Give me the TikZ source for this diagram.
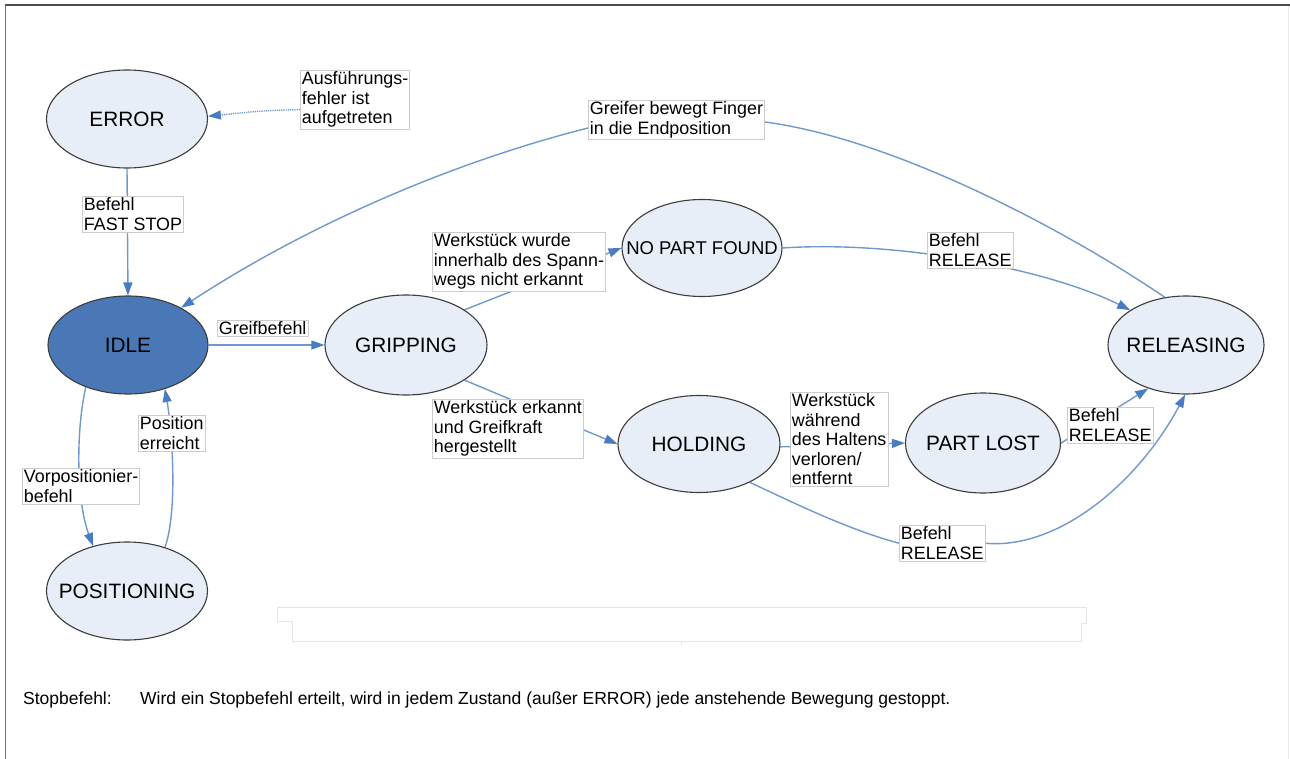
\documentclass[tikz,border=0pt]{standalone}
\usepackage{fontspec}
\setmainfont{Liberation Sans}
\usetikzlibrary{shapes.geometric,arrows.meta}
\pgfdeclarelayer{bg}
\pgfsetlayers{bg,main}
\definecolor{connc}{HTML}{7098CC}
\definecolor{tipc}{HTML}{4A7CC2}
\definecolor{stfill}{HTML}{E8EEF8}
\definecolor{idlefill}{HTML}{4A78B6}
\definecolor{stline}{HTML}{3C3C3C}
\newcommand{\zw}[1]{\makebox[0pt]{#1}}
\begin{document}
\begin{tikzpicture}[x=1pt,y=-1pt,
  state/.style={ellipse, draw=stline, line width=1.1pt, fill=stfill, inner sep=0pt,
    minimum width=160pt, minimum height=98pt, font=\fontsize{20.8}{24}\selectfont},
  lbl/.style={draw=black!20, line width=0.8pt, fill=white, align=left, inner xsep=1.5pt,
    inner ysep=1.5pt, anchor=north west, font=\fontsize{17.9}{19.5}\selectfont},
  connl/.style={draw=connc, line width=1.4pt},
  conn/.style={connl, -{Triangle[length=13pt,width=9pt,color=tipc]}},
  foot/.style={anchor=base west, inner sep=0pt, font=\fontsize{17.5}{20}\selectfont}]
\useasboundingbox (0,0) rectangle (1290,759);
% frame
\draw[black!70, line width=1.5pt] (5,5) -- (1290,5);
\draw[black!55, line width=1pt] (5,5) -- (5,759);
\draw[black!8, line width=1pt] (1288,6) -- (1288,759);
% empty box
\draw[black!10, line width=1pt] (277,621) -- (277,607) -- (1086,607) -- (1086,623) -- (1081,623)
  -- (1081,641) -- (292,641) -- (292,621) -- cycle;
\draw[black!10, line width=0.8pt] (681,641) -- (681,645);
% states
\node[state, minimum width=161pt] (err) at (127,119) {\zw{ERROR}};
\node[state, fill=idlefill] (idle) at (128,345) {\zw{IDLE}};
\node[state, minimum width=161pt] (pos) at (127,591) {\zw{POSITIONING}};
\node[state, minimum width=162pt, minimum height=100pt] (grip) at (406,345) {\zw{GRIPPING}};
\node[state, minimum height=97pt, font=\fontsize{18.5}{22}\selectfont] (npf) at (702,248) {\zw{NO PART FOUND}};
\node[state, minimum width=162pt, minimum height=97pt] (hold) at (699,444) {\zw{HOLDING}};
\node[state, minimum width=155pt, minimum height=100pt] (pl) at (983,443) {\zw{PART LOST}};
\node[state, minimum width=156pt] (rel) at (1186,345) {\zw{RELEASING}};
% labels
\node[lbl] (ausf) at (300,70) {Ausführungs-\\fehler ist\\aufgetreten};
\node[lbl] (fast) at (82,196) {Befehl\\FAST STOP};
\node[lbl] (greif) at (217,320) {Greifbefehl};
\node[lbl] (perr) at (138,415) {Position\\erreicht};
\node[lbl] (vorp) at (22,468) {Vorpositionier-\\befehl};
\node[lbl] (wnicht) at (432,232) {Werkstück wurde\\innerhalb des Spann-\\wegs nicht erkannt};
\node[lbl] (werk) at (432,399) {Werkstück erkannt\\und Greifkraft\\hergestellt};
\node[lbl] (gbf) at (588,100) {Greifer bewegt Finger\\in die Endposition};
\node[lbl] (nrel) at (927,232) {Befehl\\RELEASE};
\node[lbl] (wverl) at (790,392) {Werkstück\\während\\des Haltens\\verloren/\\entfernt};
\node[lbl] (prel) at (1067,407) {Befehl\\RELEASE};
\node[lbl] (brel) at (899,525) {Befehl\\RELEASE};
% footer
\node[foot] (fn1) at (23,704) {Stopbefehl:};
\node[foot] (fn2) at (140,704) {Wird ein Stopbefehl erteilt, wird in jedem Zustand (außer ERROR) jede anstehende Bewegung gestoppt.};
% connectors
\begin{pgfonlayer}{bg}
\draw[conn] (err.south) -- (idle.north);
\draw[conn, dash pattern=on 1.2pt off 1pt] ([yshift=-10pt]ausf.west) .. controls (260,110) and (232,114) .. (err.2);
\draw[conn] (idle.east) -- (grip.west);
\draw[conn] (idle.-135) .. controls (76,430) and (76,500) .. (pos.127);
\draw[conn] (pos.49) .. controls (178,510) and (172,430) .. (idle.-50);
\draw[conn] (grip.31) -- (npf.west);
\draw[conn] (grip.-31) -- (hold.west);
\draw[conn] (hold.-2) -- (pl.west);
\draw[conn] (npf.east) .. controls (900,240) and (1050,270) .. (rel.148);
\draw[conn] (pl.east) -- (rel.-131);
\draw[connl] (hold.-37) .. controls (800,506) and (850,530) .. (brel.west);
\draw[conn] (brel.east) .. controls (1060,550) and (1140,480) .. (rel.-91);
\draw[connl] (rel.114) .. controls (1075,236) and (900,140) .. ([yshift=-2pt]gbf.east);
\draw[conn] ([yshift=-8pt]gbf.west) .. controls (438,166) and (295,233) .. (idle.35);
\end{pgfonlayer}
\end{tikzpicture}
\end{document}
